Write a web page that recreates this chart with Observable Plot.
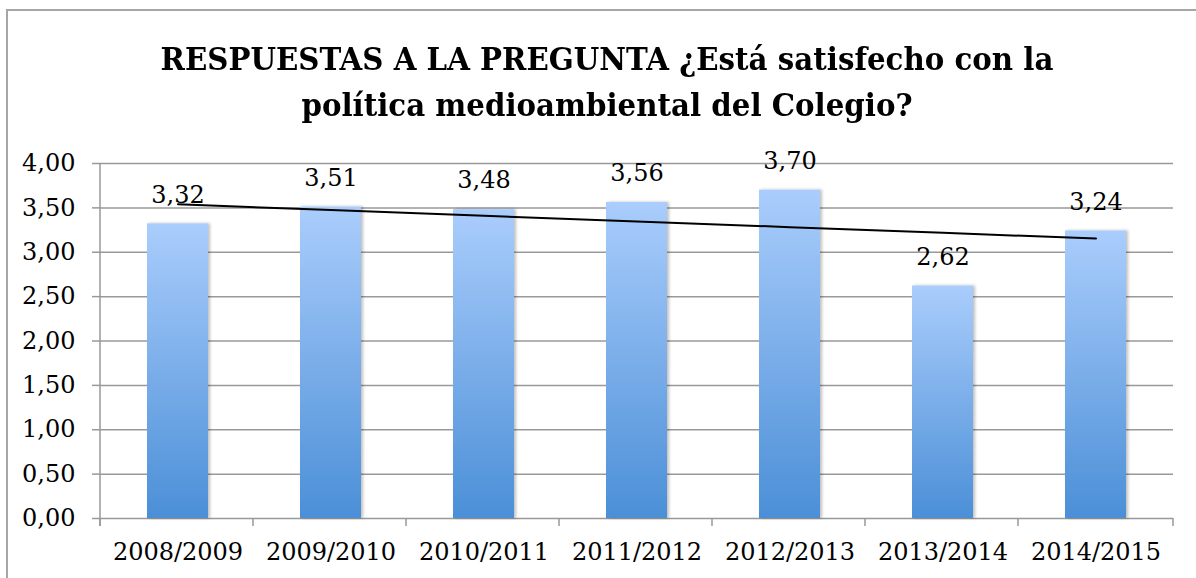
<!DOCTYPE html>
<html>
<head>
<meta charset="utf-8">
<script src="https://cdn.jsdelivr.net/npm/d3@7"></script>
<script src="https://cdn.jsdelivr.net/npm/@observablehq/plot@0.6"></script>
<style>
  html, body { margin: 0; padding: 0; background: #fff; }
  #wrap { position: relative; width: 1196px; height: 578px; overflow: hidden; }
  #frame { position: absolute; left: 6px; top: 9px; right: -4px; bottom: -4px;
           border-left: 2px solid #a6a6a6; border-top: 2px solid #a6a6a6; }
  #title { position: absolute; left: 18px; right: 0; top: 36px; text-align: center;
           font-family: "DejaVu Serif", serif; font-weight: bold; font-size: 32px;
           line-height: 46px; color: #000; transform: scaleX(0.915); transform-origin: 50% 50%; }
  #chart { position: absolute; left: 0; top: 140px; }
</style>
</head>
<body>
<div id="wrap">
  <div id="frame"></div>
  <div id="title">RESPUESTAS A LA PREGUNTA ¿Está satisfecho con la<br>política medioambiental del Colegio?</div>
  <div id="chart"></div>
</div>
<script>
const years = ["2008/2009", "2009/2010", "2010/2011", "2011/2012", "2012/2013", "2013/2014", "2014/2015"];
const values = [3.32, 3.51, 3.48, 3.56, 3.70, 2.62, 3.24];
const yTicks = [0, 0.5, 1, 1.5, 2, 2.5, 3, 3.5, 4];

const data = years.map((year, i) => ({year, value: values[i]}));

// least-squares linear trend of the series
const xs = values.map((_, i) => i);
const mx = d3.mean(xs), my = d3.mean(values);
const slope = d3.sum(xs, (x, i) => (x - mx) * (values[i] - my)) / d3.sum(xs, x => (x - mx) ** 2);
const trend = years.map((year, i) => ({year, value: my + slope * (i - mx)}));

const fmt = d => d.toFixed(2).replace(".", ",");

function decorations(index, scales, values, dims) {
  const g = d3.create("svg:g");
  const defs = g.append("defs");
  const grad = defs.append("linearGradient").attr("id", "barGrad")
    .attr("x1", 0).attr("y1", 0).attr("x2", 0).attr("y2", 1);
  grad.append("stop").attr("offset", "0%").attr("stop-color", "#aacdfc");
  grad.append("stop").attr("offset", "100%").attr("stop-color", "#4b8fd7");
  const f = defs.append("filter").attr("id", "barShadow")
    .attr("x", "-10%").attr("y", "-5%").attr("width", "125%").attr("height", "110%");
  f.append("feDropShadow").attr("dx", 2).attr("dy", 0).attr("stdDeviation", 1.5)
    .attr("flood-color", "#000").attr("flood-opacity", 0.25);

  const left = dims.marginLeft, right = dims.width - dims.marginRight;
  const y0 = scales.y(0), y4 = scales.y(4);
  const step = scales.x(years[1]) - scales.x(years[0]);
  // vertical axis line
  g.append("line").attr("x1", left).attr("x2", left).attr("y1", y4).attr("y2", y0 + 8)
    .attr("stroke", "#999").attr("stroke-width", 1.5);
  // category boundary ticks
  for (let i = 0; i <= years.length; i++) {
    const x = i === years.length ? right : left + i * step;
    g.append("line").attr("x1", x).attr("x2", x).attr("y1", y0).attr("y2", y0 + 8)
      .attr("stroke", "#999").attr("stroke-width", 1.5);
  }
  return g.node();
}

const chart = Plot.plot({
  width: 1196,
  height: 438,
  marginTop: 23,
  marginBottom: 60,
  marginLeft: 100,
  marginRight: 23,
  style: {fontFamily: "DejaVu Serif", fontSize: "24px", background: "transparent", color: "#000", overflow: "visible"},
  x: {domain: years, paddingInner: 0.6, paddingOuter: 0.3, label: null},
  y: {domain: [0, 4], label: null},
  marks: [
    Plot.gridY(yTicks, {stroke: "#999", strokeOpacity: 1, strokeWidth: 1.5}),
    decorations,
    Plot.barY(data, {x: "year", y: "value", fill: "url(#barGrad)"}),
    Plot.line(trend, {x: "year", y: "value", stroke: "#000", strokeWidth: 2}),
    Plot.text(data, {x: "year", y: "value", text: d => fmt(d.value), dy: -29, fontSize: 24, fill: "#000"}),
    Plot.axisY({ticks: yTicks, tickSize: 8, tickPadding: 17, stroke: "#999", strokeWidth: 1.5, strokeOpacity: 1, fill: "#000", tickFormat: fmt, fontSize: 24, label: null}),
    Plot.axisX({tickSize: 0, tickPadding: 24, fill: "#000", fontSize: 24, label: null})
  ]
});
chart.querySelectorAll('g[aria-label="bar"] rect').forEach(r => r.setAttribute("filter", "url(#barShadow)"));
document.getElementById("chart").appendChild(chart);
</script>
</body>
</html>
